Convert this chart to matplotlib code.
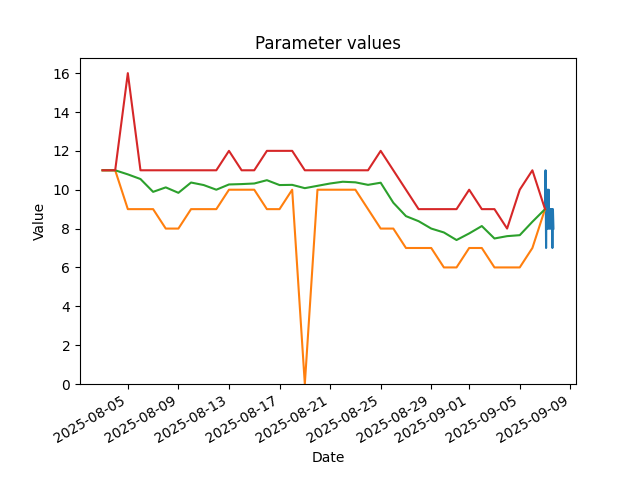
import pandas as pd
import matplotlib
matplotlib.use("Agg")
import matplotlib.pyplot as plt

# daily aggregated values
days = pd.date_range("2025-08-03", "2025-09-07", freq="D")
max_vals = [11, 11, 16, 11, 11, 11, 11, 11, 11, 11, 12, 11, 11, 12, 12, 12,
            11, 11, 11, 11, 11, 11, 12, 11, 10, 9, 9, 9, 9, 10, 9, 9, 8, 10, 11, 9]
min_vals = [11, 11, 9, 9, 9, 8, 8, 9, 9, 9, 10, 10, 10, 9, 9, 10,
            0, 10, 10, 10, 10, 9, 8, 8, 7, 7, 7, 6, 6, 7, 7, 6, 6, 6, 7, 9]
mean_vals = [11, 11, 10.79, 10.55, 9.89, 10.12, 9.84, 10.37, 10.24, 10.0, 10.27,
             10.29, 10.32, 10.49, 10.24, 10.25, 10.08, 10.2, 10.32, 10.41, 10.38,
             10.25, 10.36, 9.33, 8.64, 8.38, 8.0, 7.8, 7.41, 7.75, 8.13, 7.49,
             7.61, 7.66, 8.35, 9]

# raw readings of the last day (hourly)
raw_vals = [9, 11, 7, 10, 8, 10, 8, 10, 8, 9, 8, 9, 8, 9, 7, 9, 8]
raw_times = pd.date_range("2025-09-07", periods=len(raw_vals), freq="h")

fig, ax = plt.subplots(figsize=(6.4, 4.8))
ax.plot(raw_times, raw_vals, color="C0")
ax.plot(days, min_vals, color="C1")
ax.plot(days, mean_vals, color="C2")
ax.plot(days, max_vals, color="C3")
ax.set_ylim(bottom=0)
ax.set_title("Parameter values")
ax.set_xlabel("Date")
ax.set_ylabel("Value")
fig.autofmt_xdate()
fig.savefig("out.png", dpi=100)
